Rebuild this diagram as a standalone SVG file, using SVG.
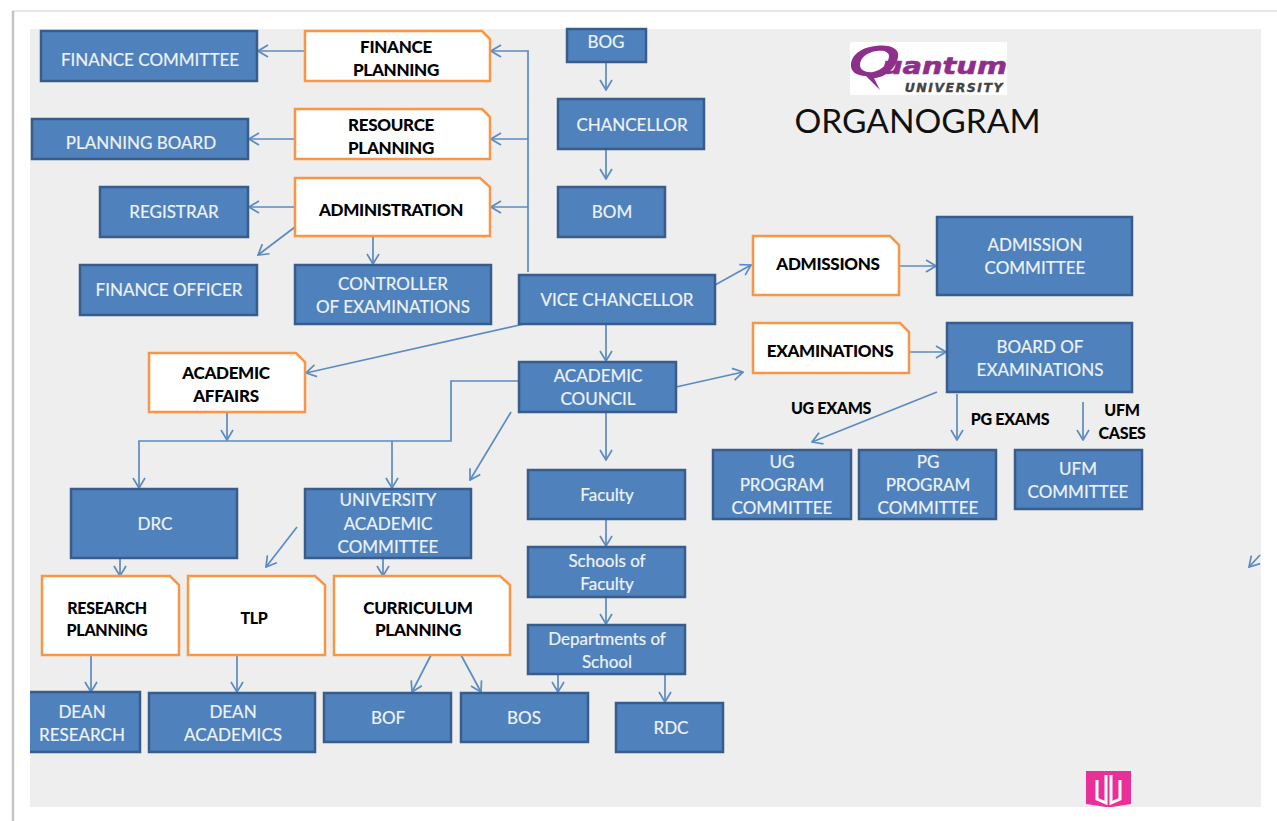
<svg xmlns="http://www.w3.org/2000/svg" width="1277" height="821" viewBox="0 0 1277 821">
<style>
.b{fill:#4f81bd;stroke:#385d8a;stroke-width:2.5}
.o{fill:#fff;stroke:#f79646;stroke-width:2.5}
.t{font-family:Lato,"Open Sans",sans-serif;font-size:17px;fill:#eef3f9;text-anchor:middle;stroke:#eef3f9;stroke-width:.2}
.k{font-family:Lato,"Open Sans",sans-serif;font-size:17px;font-weight:900;fill:#000;text-anchor:middle;letter-spacing:-.3px}
.l{fill:none;stroke:#5b8bc0;stroke-width:1.7}
</style>
<defs><marker id="a" viewBox="0 0 12 14" refX="11" refY="7" markerWidth="12" markerHeight="14" markerUnits="userSpaceOnUse" orient="auto"><path d="M1 1L11 7L1 13" fill="none" stroke="#5b8bc0" stroke-width="1.7"/></marker></defs>
<rect width="1277" height="821" fill="#fff"/>
<path d="M13 821V11H1277" fill="none" stroke="#e0e0e0" stroke-width="1.500"/>
<path d="M13 11V821" fill="none" stroke="#c4c4c4" stroke-width="2.500"/>
<rect x="30" y="29" width="1231" height="778" fill="#eeeeee"/>
<g id="connectors">
<path class="l" marker-end="url(#a)" d="M304 51H258"/>
<path class="l" marker-end="url(#a)" d="M294 139H249"/>
<path class="l" marker-end="url(#a)" d="M294 207H249"/>
<path class="l" marker-end="url(#a)" d="M295 227L258 255"/>
<path class="l" marker-end="url(#a)" d="M373 237V264"/>
<path class="l" marker-end="url(#a)" d="M528 272V51H491"/>
<path class="l" marker-end="url(#a)" d="M528 139H491"/>
<path class="l" marker-end="url(#a)" d="M528 207H491"/>
<path class="l" marker-end="url(#a)" d="M606 62V90"/>
<path class="l" marker-end="url(#a)" d="M606 149V179"/>
<path class="l" marker-end="url(#a)" d="M715 285L751 265"/>
<path class="l" marker-end="url(#a)" d="M899 266H936"/>
<path class="l" marker-end="url(#a)" d="M606 324V361"/>
<path class="l" marker-end="url(#a)" d="M524 324L306 373"/>
<path class="l" marker-end="url(#a)" d="M676 387L743 372"/>
<path class="l" marker-end="url(#a)" d="M909 352H946"/>
<path class="l" marker-end="url(#a)" d="M937 392L812 442"/>
<path class="l" marker-end="url(#a)" d="M957 394V440"/>
<path class="l" marker-end="url(#a)" d="M1083 402V440"/>
<path class="l" marker-end="url(#a)" d="M606 412V460"/>
<path class="l" marker-end="url(#a)" d="M511 412L470 480"/>
<path class="l" marker-end="url(#a)" d="M518 381H451V441H139V488"/>
<path class="l" marker-end="url(#a)" d="M392 441V488"/>
<path class="l" marker-end="url(#a)" d="M227 412V440"/>
<path class="l" marker-end="url(#a)" d="M120 558V576"/>
<path class="l" marker-end="url(#a)" d="M297 527L266 567"/>
<path class="l" marker-end="url(#a)" d="M383 558V576"/>
<path class="l" marker-end="url(#a)" d="M606 519V546"/>
<path class="l" marker-end="url(#a)" d="M606 597V624"/>
<path class="l" marker-end="url(#a)" d="M558 675V692"/>
<path class="l" marker-end="url(#a)" d="M665 675V702"/>
<path class="l" marker-end="url(#a)" d="M91 655V692"/>
<path class="l" marker-end="url(#a)" d="M237 655V692"/>
<path class="l" marker-end="url(#a)" d="M431 655L412 692"/>
<path class="l" marker-end="url(#a)" d="M461 655L481 692"/>
<path class="l" marker-end="url(#a)" d="M1260 555L1249 567"/>
</g>
<g id="bog"><path class="b" d="M567 29H646V62H567Z"/><text class="t" x="606" y="48">BOG</text></g>
<g id="finance-committee"><rect class="b" x="41" y="31" width="216" height="50"/><text class="t" x="150" y="66">FINANCE COMMITTEE</text></g>
<g id="finance-planning"><path class="o" d="M305 31H482L490 39V81H305Z"/><text class="k" x="396" y="53">FINANCE</text><text class="k" x="396" y="76">PLANNING</text></g>
<g id="planning-board"><rect class="b" x="32" y="119" width="216" height="40"/><text class="t" x="141" y="149">PLANNING BOARD</text></g>
<g id="resource-planning"><path class="o" d="M295 109H482L490 117V159H295Z"/><text class="k" x="391" y="131">RESOURCE</text><text class="k" x="391" y="154">PLANNING</text></g>
<g id="chancellor"><rect class="b" x="558" y="99" width="146" height="50"/><text class="t" x="632" y="131">CHANCELLOR</text></g>
<g id="registrar"><rect class="b" x="100" y="187" width="148" height="50"/><text class="t" x="174" y="218">REGISTRAR</text></g>
<g id="administration"><path class="o" d="M295 178H480L490 187V236H295Z"/><text class="k" x="391" y="216">ADMINISTRATION</text></g>
<g id="bom"><rect class="b" x="558" y="187" width="107" height="50"/><text class="t" x="612" y="218">BOM</text></g>
<g id="finance-officer"><rect class="b" x="80" y="265" width="177" height="50"/><text class="t" x="169" y="296">FINANCE OFFICER</text></g>
<g id="controller"><rect class="b" x="295" y="265" width="196" height="59"/><text class="t" x="393" y="290">CONTROLLER</text><text class="t" x="393" y="313">OF EXAMINATIONS</text></g>
<g id="vice-chancellor"><rect class="b" x="519" y="275" width="196" height="49"/><text class="t" x="617" y="306">VICE CHANCELLOR</text></g>
<g id="admissions"><path class="o" d="M753 236H890L899 245V295H753Z"/><text class="k" x="828" y="270">ADMISSIONS</text></g>
<g id="admission-committee"><rect class="b" x="937" y="217" width="195" height="78"/><text class="t" x="1035" y="251">ADMISSION</text><text class="t" x="1035" y="274">COMMITTEE</text></g>
<g id="examinations"><path class="o" d="M753 323H900L909 332V373H753Z"/><text class="k" x="830" y="357">EXAMINATIONS</text></g>
<g id="board-of-examinations"><rect class="b" x="947" y="323" width="185" height="69"/><text class="t" x="1040" y="353">BOARD OF</text><text class="t" x="1040" y="376">EXAMINATIONS</text></g>
<g id="academic-council"><rect class="b" x="519" y="362" width="157" height="50"/><text class="t" x="598" y="382">ACADEMIC</text><text class="t" x="598" y="405">COUNCIL</text></g>
<g id="academic-affairs"><path class="o" d="M149 353H296L305 362V412H149Z"/><text class="k" x="226" y="379">ACADEMIC</text><text class="k" x="226" y="402">AFFAIRS</text></g>
<text class="k" x="831" y="414" style="font-size:16px">UG EXAMS</text>
<text class="k" x="1010" y="425" style="font-size:16px">PG EXAMS</text>
<text class="k" x="1122" y="416" style="font-size:16px">UFM</text>
<text class="k" x="1122" y="439" style="font-size:16px">CASES</text>
<g id="ug-program"><rect class="b" x="713" y="450" width="138" height="69"/><text class="t" x="782" y="468">UG</text><text class="t" x="782" y="491">PROGRAM</text><text class="t" x="782" y="514">COMMITTEE</text></g>
<g id="pg-program"><rect class="b" x="859" y="450" width="137" height="69"/><text class="t" x="928" y="468">PG</text><text class="t" x="928" y="491">PROGRAM</text><text class="t" x="928" y="514">COMMITTEE</text></g>
<g id="ufm-committee"><rect class="b" x="1015" y="450" width="127" height="59"/><text class="t" x="1078" y="475">UFM</text><text class="t" x="1078" y="498">COMMITTEE</text></g>
<g id="drc"><rect class="b" x="71" y="489" width="166" height="69"/><text class="t" x="155" y="530">DRC</text></g>
<g id="university-academic-committee"><rect class="b" x="305" y="489" width="166" height="69"/><text class="t" x="388" y="506">UNIVERSITY</text><text class="t" x="388" y="530">ACADEMIC</text><text class="t" x="388" y="553">COMMITTEE</text></g>
<g id="faculty"><rect class="b" x="528" y="470" width="157" height="49"/><text class="t" x="607" y="501">Faculty</text></g>
<g id="schools"><rect class="b" x="528" y="547" width="157" height="50"/><text class="t" x="607" y="567">Schools of</text><text class="t" x="607" y="590">Faculty</text></g>
<g id="departments"><rect class="b" x="528" y="625" width="157" height="49"/><text class="t" x="607" y="645">Departments of</text><text class="t" x="607" y="668">School</text></g>
<g id="research-planning"><path class="o" d="M42 576H170L179 585V655H42Z"/><text class="k" x="107" y="614" style="font-size:16px">RESEARCH</text><text class="k" x="107" y="636" style="font-size:16px">PLANNING</text></g>
<g id="tlp"><path class="o" d="M188 576H315L325 585V655H188Z"/><text class="k" x="254" y="624" style="font-size:16px">TLP</text></g>
<g id="curriculum-planning"><path class="o" d="M334 576H500L510 585V655H334Z"/><text class="k" x="418" y="614">CURRICULUM</text><text class="k" x="418" y="636">PLANNING</text></g>
<g id="dean-research"><path class="b" d="M30 692H140V752H30"/><text class="t" x="82" y="718">DEAN</text><text class="t" x="82" y="741">RESEARCH</text></g>
<g id="dean-academics"><rect class="b" x="149" y="693" width="166" height="59"/><text class="t" x="233" y="718">DEAN</text><text class="t" x="233" y="741">ACADEMICS</text></g>
<g id="bof"><rect class="b" x="324" y="693" width="127" height="49"/><text class="t" x="388" y="724">BOF</text></g>
<g id="bos"><rect class="b" x="461" y="693" width="127" height="49"/><text class="t" x="524" y="724">BOS</text></g>
<g id="rdc"><rect class="b" x="616" y="703" width="107" height="49"/><text class="t" x="671" y="734">RDC</text></g>
<g id="logo"><rect x="850" y="42" width="157" height="53" fill="#fff"/>
<path fill-rule="evenodd" fill="#8e2f8b" d="M876 46C890 44 900 49 898 57C896 69 884 78 874 78L880 90L866 76C856 76 850 71 851 64C852 54 863 47 876 46ZM877 51C867 52 860 58 860 65C860 70 866 73 873 72C882 70 889 63 889 56C889 52 884 50 877 51Z"/>
<text x="882" y="74" style="font-family:'DejaVu Sans',sans-serif;font-weight:700;font-style:italic;font-size:23px;stroke:#8e2f8b;stroke-width:.6" fill="#8e2f8b" textLength="125" lengthAdjust="spacingAndGlyphs">uantum</text>
<text x="1004" y="92" text-anchor="end" style="font-family:'DejaVu Sans',sans-serif;font-weight:700;font-style:italic;font-size:12.500px;letter-spacing:1.500px;stroke:#444;stroke-width:.4" fill="#444">UNIVERSITY</text></g>
<text x="917.500" y="133" text-anchor="middle" style="font-family:Lato,'Open Sans',sans-serif;font-size:33.500px" fill="#111">ORGANOGRAM</text>
<g id="mark"><path d="M1086 771H1131V804L1112 807H1106L1086 804Z" fill="#e9309a"/><path d="M1097 780V799L1106 803V775M1120 780V799L1111 803V775" fill="none" stroke="#fff" stroke-width="3"/></g>
</svg>
